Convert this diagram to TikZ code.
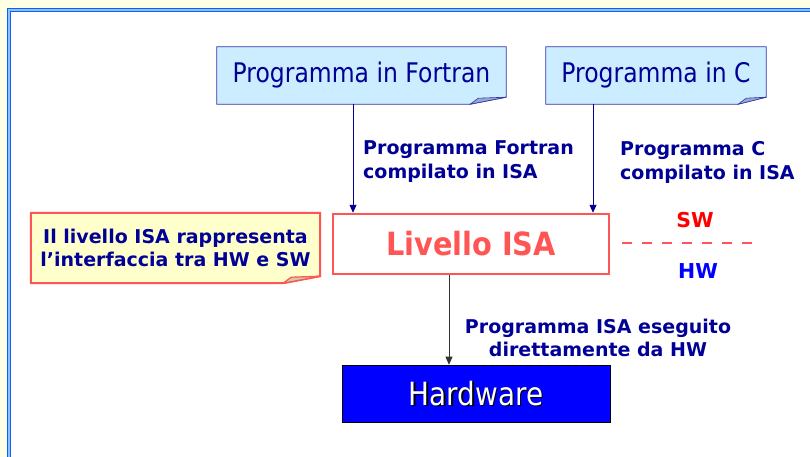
\documentclass[tikz,border=0pt]{standalone}
\usepackage{fontspec}
\setmainfont{DejaVu Sans}
\newfontfamily\narrowsans[FakeStretch=0.87]{DejaVu Sans}
\newfontfamily\narrowbold[FakeStretch=0.9]{DejaVu Sans Bold}
\usetikzlibrary{arrows.meta,calc}

\definecolor{cream}{RGB}{255,255,228}
\definecolor{frameblue}{RGB}{0,102,255}
\definecolor{framelight}{RGB}{150,190,255}
\definecolor{navy}{RGB}{0,0,150}
\definecolor{noteblue}{RGB}{204,236,255}
\definecolor{noteedge}{RGB}{51,51,170}
\definecolor{notefold}{RGB}{150,170,205}
\definecolor{salmon}{RGB}{255,85,85}
\definecolor{paleyellow}{RGB}{255,255,204}
\definecolor{yellowfold}{RGB}{205,205,160}
\definecolor{hwblue}{RGB}{0,0,255}

\tikzset{
  notebox/.style={minimum height=57pt, inner sep=0pt,
    font=\narrowsans\fontsize{27}{30}\selectfont, text=navy},
  boldlabel/.style={font=\bfseries\fontsize{19}{24}\selectfont, text=navy,
    inner sep=0pt},
  arr/.style={draw=navy, line width=0.8pt,
    -{Triangle[length=8pt,width=7pt]}},
  blackarr/.style={draw=black!80, line width=0.8pt,
    -{Triangle[length=8pt,width=7pt,fill=black!80]}},
}

\begin{document}
\begin{tikzpicture}[x=1pt,y=-1pt]
\useasboundingbox (0,0) rectangle (810,457);
\fill[cream] (0,0) rectangle (810,457);
\clip (0,0) rectangle (810,457);

% slide frame
\fill[white] (9,10) rectangle (850,490);
\draw[framelight, line width=3pt] (9,10) rectangle (850,490);
\draw[frameblue, line width=1.3pt] (7.5,8.5) rectangle (852,492);
\draw[frameblue, line width=1.1pt] (10.6,11.6) rectangle (848,488);

% source programs (folded notes)
\node[notebox, minimum width=289pt] (fort) at (361.5,75.5) {};
\node[notebox, minimum width=220pt] (cprog) at (656,75.5) {};

\foreach \n/\w in {fort/36, cprog/28}{
  \filldraw[fill=noteblue, draw=noteedge, line width=0.8pt]
    (\n.north west) -- (\n.north east) -- ($(\n.south east)+(0,-7)$)
    -- ($(\n.south east)+(-\w,0)$) -- (\n.south west) -- cycle;
  \filldraw[fill=notefold, draw=noteedge, line width=0.6pt]
    ($(\n.south east)+(-\w,0)$) -- ($(\n.south east)+(-\w+8,-6)$)
    -- ($(\n.south east)+(0,-7)$) -- cycle;
}
\node[font=\narrowsans\fontsize{27}{30}\selectfont, text=navy]
  at (fort.center) {Programma in Fortran};
\node[font=\narrowsans\fontsize{27}{30}\selectfont, text=navy]
  at (cprog.center) {Programma in C};

% ISA level
\node[draw=salmon, line width=2.5pt, minimum width=276pt, minimum height=60pt,
  font=\narrowbold\fontsize{32}{36}\selectfont, text=salmon]
  (isa) at (471,244) {Livello ISA};

% callout note
\node[minimum width=289pt, minimum height=70pt, inner sep=0pt]
  (call) at (175.5,248) {};
\filldraw[fill=paleyellow, draw=salmon, line width=2pt]
  (call.north west) -- (call.north east) -- ($(call.south east)+(0,-7)$)
  -- ($(call.south east)+(-37,0)$) -- (call.south west) -- cycle;
\filldraw[fill=yellowfold, draw=salmon, line width=1.2pt]
  ($(call.south east)+(-37,0)$) -- ($(call.south east)+(-29,-6)$)
  -- ($(call.south east)+(0,-7)$) -- cycle;
\node[boldlabel, align=center, font=\bfseries\fontsize{19}{23}\selectfont]
  at (call.center) {Il livello ISA rappresenta\\l’interfaccia tra HW e SW};

% hardware
\node[fill=hwblue, draw=black, line width=0.6pt, minimum width=268pt,
  minimum height=57pt, inner sep=0pt] (hw) at (476,393.5) {};
\node[font=\narrowsans\fontsize{32}{36}\selectfont, text=black]
  at ($(hw.center)+(1.5,1.5)$) {Hardware};
\node[font=\narrowsans\fontsize{32}{36}\selectfont, text=white]
  at (hw.center) {Hardware};

% connectors
\path (fort.south) ++(-8.5,0) coordinate (fa);
\path (cprog.south) ++(-63,0) coordinate (ca);
\path (isa.south) ++(-22,0) coordinate (ia);
\draw[arr] (fa) -- (fa |- isa.north);
\draw[arr] (ca) -- (ca |- isa.north);
\draw[blackarr] (ia) -- (ia |- hw.north);

% edge labels
\node[boldlabel, align=left, anchor=west] (lf) at (363,162)
  {Programma Fortran\\compilato in ISA};
\node[boldlabel, align=left, anchor=west] (lc) at (620,162)
  {Programma C\\compilato in ISA};
\node[boldlabel, align=center, font=\bfseries\fontsize{19}{23}\selectfont]
  (lh) at (598,338) {Programma ISA eseguito\\direttamente da HW};

% SW / HW boundary
\coordinate (d1) at (622,243);
\coordinate (d2) at (762,243);
\draw[salmon, line width=2.4pt, dash pattern=on 10pt off 10pt] (d1) -- (d2);
\node[font=\bfseries\fontsize{20.5}{24}\selectfont, text=red] (sw) at (695,220) {SW};
\node[font=\bfseries\fontsize{20.5}{24}\selectfont, text=hwblue] (hwl) at (698,271) {HW};
\end{tikzpicture}
\end{document}
